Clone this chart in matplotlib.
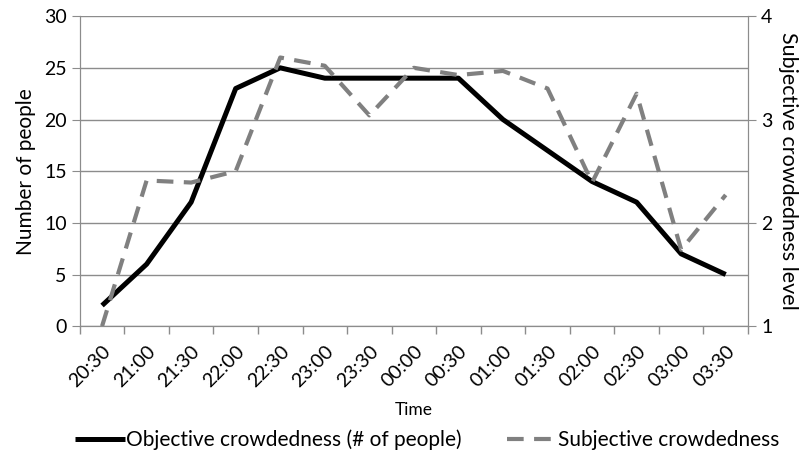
import matplotlib.pyplot as plt
import numpy as np

plt.rcParams['font.family'] = ['Lato', 'DejaVu Sans']

times = ['20:30', '21:00', '21:30', '22:00', '22:30', '23:00', '23:30', '00:00',
         '00:30', '01:00', '01:30', '02:00', '02:30', '03:00', '03:30']
objective = [2, 6, 12, 23, 25, 24, 24, 24, 24, 20, 17, 14, 12, 7, 5]
subjective = [1.0, 2.41, 2.39, 2.50, 3.60, 3.52, 3.04, 3.50, 3.43, 3.47, 3.30, 2.39, 3.25, 1.74, 2.27]

grey = '#8c8c8c'
fig, ax = plt.subplots(figsize=(8.06, 4.62), dpi=100)
fig.subplots_adjust(left=0.099, right=0.928, top=0.965, bottom=0.294)
ax2 = ax.twinx()

x = np.arange(len(times))
l1, = ax.plot(x, objective, color='black', lw=3.6, solid_capstyle='butt',
              label='Objective crowdedness (# of people)', zorder=3)
l2, = ax2.plot(x, subjective, color='#808080', lw=3.0, dashes=(4, 2.5),
               label='Subjective crowdedness', zorder=2)

ax.set_xlim(-0.5, len(times) - 0.5)
ax.set_ylim(0, 30)
ax.set_yticks(range(0, 31, 5))
ax2.set_ylim(1, 4)
ax2.set_yticks([1, 2, 3, 4])
ax.grid(axis='y', color=grey, lw=1)
ax.set_axisbelow(True)

ax.set_xticks(x)
ax.set_xticklabels(times, rotation=45, ha='right', rotation_mode='anchor')
ax.set_xticks(np.arange(-0.5, len(times)), minor=True)
ax.tick_params(axis='x', which='major', length=0, labelsize=14, pad=12)
ax.tick_params(axis='x', which='minor', length=6, color=grey, width=1)
ax.tick_params(axis='y', labelsize=14, length=6, color=grey)
ax2.tick_params(axis='y', labelsize=14, length=6, color=grey)

for a in (ax, ax2):
    a.spines['top'].set_visible(False)
    for s in ('left', 'right', 'bottom'):
        a.spines[s].set_color(grey)

ax.set_ylabel('Number of people', fontsize=15, labelpad=6)
ax2.set_ylabel('Subjective crowdedness level', fontsize=15.5, rotation=270, labelpad=18)
ax.set_xlabel('Time', fontsize=12.5, labelpad=8)

fig.legend(handles=[l1, l2], loc='lower center', bbox_to_anchor=(0.53, -0.015), ncol=2,
           frameon=False, fontsize=15, handlelength=2.4, handletextpad=0.05, columnspacing=2.2)

fig.savefig('out.png', dpi=100)
